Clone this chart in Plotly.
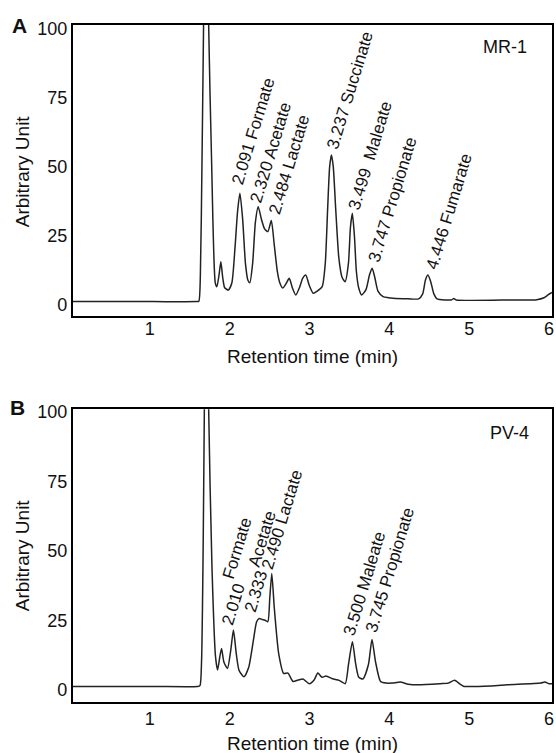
import plotly.graph_objects as go

# ---------------- data ----------------
# Panel A: strain MR-1 — labelled peaks (retention time in min, height in arbitrary units)
mr1_peak_times = [2.091, 2.320, 2.484, 3.237, 3.499, 3.747, 4.446]
mr1_peak_names = ["Formate", "Acetate", "Lactate", "Succinate", "Maleate", "Propionate", "Fumarate"]
mr1_peak_heights = [40.4, 35.5, 30.5, 54.2, 33.1, 13.3, 10.8]

# Panel A: remaining chromatogram trace points (time, signal)
mr1_times = [0.0, 1.0, 1.55, 1.576, 1.595, 1.615, 1.635, 1.655, 1.685, 1.70, 1.736, 1.782,
             1.802, 1.83, 1.852, 1.875, 1.90, 1.947, 1.99, 2.03, 2.062, 2.125, 2.16, 2.19,
             2.215, 2.25, 2.285, 2.36, 2.40, 2.441, 2.52, 2.56, 2.59, 2.627, 2.665, 2.709,
             2.75, 2.791, 2.84, 2.875, 2.915, 2.96, 3.010, 3.06, 3.121, 3.16, 3.19, 3.215,
             3.26, 3.29, 3.33, 3.37, 3.409, 3.45, 3.475, 3.525, 3.55, 3.58, 3.616, 3.67,
             3.715, 3.78, 3.82, 3.884, 3.95, 4.007, 4.2, 4.33, 4.38, 4.415, 4.48, 4.52, 4.56,
             4.666, 4.74, 4.77, 4.80, 5.5, 5.81, 5.90, 5.95, 6.0]
mr1_values = [1.2, 1.2, 1.2, 1.3, 10, 50, 100, 150, 150, 100, 52, 8,
              6.6, 11, 15.6, 10, 6.2, 5.4, 8, 21, 34, 31, 15, 9,
              8.0, 15, 30, 31, 27.5, 26.5, 22, 12, 8, 6.1, 7.5, 9.6,
              6, 3.6, 6.5, 9.5, 10.8, 7, 4.2, 5, 6.6, 15, 35, 50,
              50, 35, 17, 10, 8.4, 15, 28, 25, 12, 6, 3.6, 5.5,
              11, 10, 5, 3.0, 2.6, 2.4, 2.2, 2.2, 4, 9, 8.5, 4, 2.2,
              1.8, 1.8, 2.3, 1.8, 1.8, 1.9, 2.6, 3.6, 4.5]

# Panel B: strain PV-4 — labelled peaks
pv4_peak_times = [2.010, 2.333, 2.490, 3.500, 3.745]
pv4_peak_names = ["Formate", "Acetate", "Lactate", "Maleate", "Propionate"]
pv4_peak_heights = [21.5, 25.7, 41.9, 17.3, 18.1]

# Panel B: remaining chromatogram trace points
pv4_times = [0.0, 1.0, 1.56, 1.59, 1.61, 1.63, 1.645, 1.665, 1.69, 1.70, 1.74, 1.785,
             1.811, 1.84, 1.861, 1.89, 1.935, 1.975, 2.045, 2.08, 2.142, 2.20, 2.266, 2.30,
             2.37, 2.40, 2.44, 2.465, 2.52, 2.55, 2.576, 2.638, 2.693, 2.755, 2.82, 2.88,
             2.96, 3.02, 3.066, 3.12, 3.169, 3.25, 3.334, 3.41, 3.45, 3.54, 3.58, 3.632,
             3.70, 3.79, 3.852, 3.92, 4.0, 4.1, 4.2, 4.33, 4.6, 4.70, 4.78, 4.85, 4.89,
             5.24, 5.44, 5.86, 5.91, 5.96, 6.0]
pv4_values = [1.2, 1.2, 1.2, 1.5, 10, 50, 100, 150, 150, 100, 45, 12,
              7.1, 12, 14.9, 10, 7.7, 14, 13, 7, 4.7, 8, 19, 24.5,
              25.3, 25.1, 24.5, 33, 30, 20, 13.1, 5.9, 6.0, 3.0, 3.5, 3.9,
              2.2, 3.5, 6.0, 4.5, 5.0, 4.0, 3.4, 2.2, 9, 9.5, 4.5, 3.9,
              9, 10, 3.0, 2.4, 2.4, 2.8, 2.0, 1.8, 2.2, 2.4, 3.4, 2.0, 1.3,
              1.4, 1.8, 2.4, 2.8, 2.2, 2.2]

x_ticks = [1, 2, 3, 4, 5, 6]
y_ticks = [0, 25, 50, 75, 100]

# ---------------- layout geometry ----------------
FIG_W, FIG_H = 556, 753
M_L, M_R, M_T, M_B = 73, 2, 25, 51
PLOT_W = FIG_W - M_L - M_R
PLOT_H = FIG_H - M_T - M_B
FONT = "Liberation Sans, Arial, sans-serif"
INK = "#111111"
LABEL_ANGLE = -73
LABEL_SIZE = 17

# Pixel nudges (x, y-up) of each peak label relative to its apex.
mr1_label_shift = [(-14, 4), (-14, -1), (-9, 2), (-11, 1), (-10, -1), (-10, 1), (-8, 1)]
pv4_label_shift = [(-18, 0), (-21, 1), (-16, -1), (-15, 1), (-13, 2)]
# Peaks whose compound name sits apart from the retention time: index -> name nudge
pv4_split_names = {0: (-17, 46), 1: (-17, 47)}


def px_to_paper(px, py):
    return (px - M_L) / PLOT_W, (FIG_H - M_B - py) / PLOT_H


def merged_trace(base_t, base_v, peak_t, peak_v):
    pts = sorted(zip(list(base_t) + list(peak_t), list(base_v) + list(peak_v)))
    return [p[0] for p in pts], [p[1] for p in pts]


def peak_label(x, y, xa, ya, text, shift):
    return dict(
        x=x, y=y, xref=xa, yref=ya, text=text, textangle=LABEL_ANGLE,
        xanchor="left", yanchor="bottom", xshift=shift[0], yshift=shift[1],
        showarrow=False, font=dict(family=FONT, size=LABEL_SIZE, color=INK),
    )


fig = go.Figure()

panels = [
    ("x2", "y2", mr1_times, mr1_values, mr1_peak_times, mr1_peak_names, mr1_peak_heights,
     mr1_label_shift, {}),
    ("x", "y", pv4_times, pv4_values, pv4_peak_times, pv4_peak_names, pv4_peak_heights,
     pv4_label_shift, pv4_split_names),
]

annotations = []
for xa, ya, bt, bv, pt, pn, ph, shifts, split in panels:
    t, v = merged_trace(bt, bv, pt, ph)
    fig.add_trace(go.Scatter(
        x=t, y=v, xaxis=xa, yaxis=ya, mode="lines",
        line=dict(color="#222222", width=1.5, shape="spline", smoothing=0.6),
        hoverinfo="skip", showlegend=False,
    ))
    for i, (rt, name, h) in enumerate(zip(pt, pn, ph)):
        rt_text = f"{rt:.3f}"
        if i in split:
            annotations.append(peak_label(rt, h, xa, ya, rt_text, shifts[i]))
            annotations.append(peak_label(rt, h, xa, ya, name, split[i]))
        else:
            gap = "\u00a0 " if name == "Maleate" and xa == "x2" else " "
            annotations.append(peak_label(rt, h, xa, ya, rt_text + gap + name, shifts[i]))

# panel letters, strain names and axis titles
for letter, (lx, ly), strain, (sx, sy), (tx, ty), yty in [
    ("A", (19.5, 25), "MR-1", (531, 47), (313, 356), 171),
    ("B", (17.5, 407.5), "PV-4", (533, 433), (313, 744), 555),
]:
    px, py = px_to_paper(lx, ly)
    annotations.append(dict(x=px, y=py, xref="paper", yref="paper", text=f"<b>{letter}</b>",
                            xanchor="center", yanchor="middle", showarrow=False,
                            font=dict(family=FONT, size=21, color=INK)))
    px, py = px_to_paper(sx, sy)
    annotations.append(dict(x=px, y=py, xref="paper", yref="paper", text=strain,
                            xanchor="right", yanchor="middle", showarrow=False,
                            font=dict(family=FONT, size=18, color=INK)))
    px, py = px_to_paper(tx, ty)
    annotations.append(dict(x=px, y=py, xref="paper", yref="paper", text="Retention time (min)",
                            xanchor="center", yanchor="middle", showarrow=False,
                            font=dict(family=FONT, size=19, color=INK)))
    px, py = px_to_paper(22, yty)
    annotations.append(dict(x=px, y=py, xref="paper", yref="paper", text="Arbitrary Unit",
                            textangle=-90, xanchor="center", yanchor="middle", showarrow=False,
                            font=dict(family=FONT, size=19, color=INK)))

axis_common = dict(
    showline=True, linecolor="black", linewidth=2.2, mirror=True,
    ticks="", showgrid=False, zeroline=False, fixedrange=True,
    tickfont=dict(family=FONT, size=18, color=INK), ticklabeloverflow="allow",
)

fig.update_layout(
    width=FIG_W, height=FIG_H,
    margin=dict(l=M_L, r=M_R, t=M_T, b=M_B, pad=0),
    paper_bgcolor="white", plot_bgcolor="white",
    xaxis=dict(axis_common, domain=[0, 1], anchor="y", range=[0, 6],
               tickvals=x_ticks, ticklabelshift=-3, ticklabelstandoff=-1),
    yaxis=dict(axis_common, domain=[0, 0.4324], anchor="x", range=[-4.4, 101.0],
               tickvals=y_ticks),
    xaxis2=dict(axis_common, domain=[0, 1], anchor="y2", range=[0, 6],
                tickvals=x_ticks, ticklabelshift=-3, ticklabelstandoff=-4),
    yaxis2=dict(axis_common, domain=[0.5706, 1], anchor="x2", range=[-3.9, 101.2],
                tickvals=y_ticks),
    annotations=annotations,
)

fig.write_html("out.html")
